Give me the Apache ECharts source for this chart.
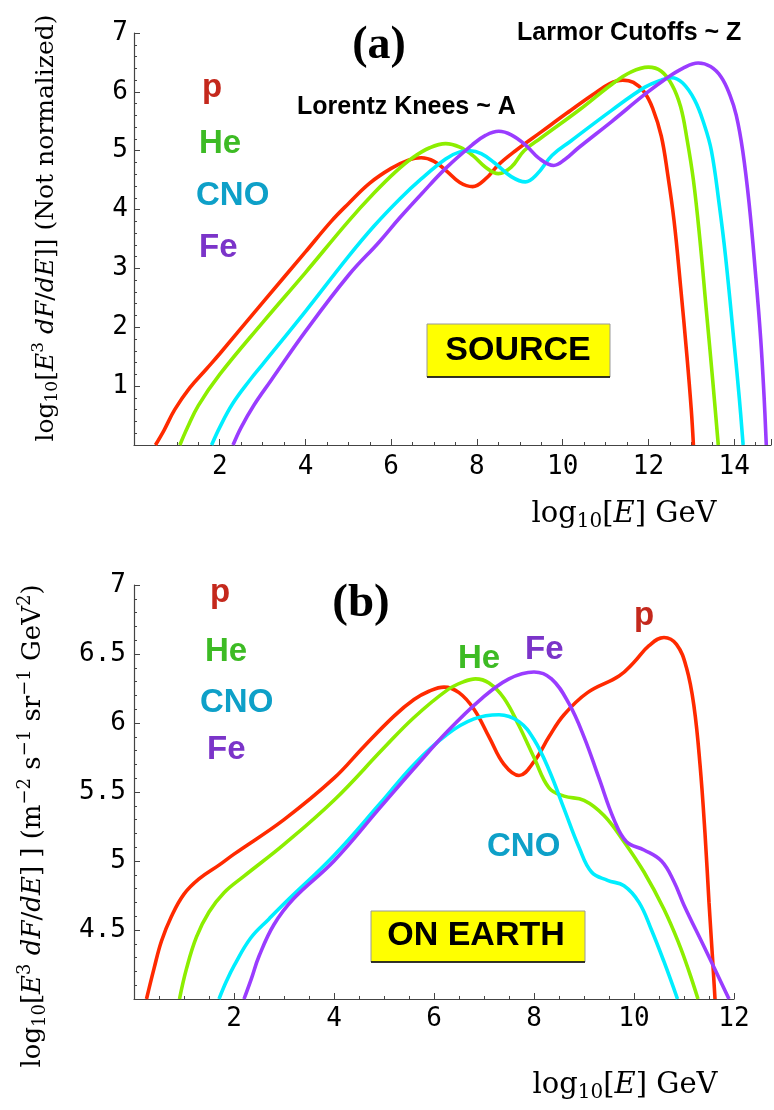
<!DOCTYPE html>
<html><head><meta charset="utf-8">
<script src="https://cdn.jsdelivr.net/npm/echarts@6/dist/echarts.min.js"></script>
<style>html,body{margin:0;padding:0;background:#fff}#c{width:774px;height:1110px}</style>
</head><body><div id="c"></div>
<script>
// ---------- Panel (a): SOURCE ----------
const srcP = [[0.5,0],[0.7,0.25],[0.95,0.6],[1.3,0.97],[1.7,1.3],[2.0,1.55],[3.0,2.42],[4.0,3.28],[4.6,3.8],[5.0,4.1],[5.5,4.45],[6.0,4.7],[6.4,4.84],[6.7,4.88],[7.0,4.82],[7.3,4.65],[7.6,4.46],[7.9,4.39],[8.2,4.52],[8.5,4.76],[8.9,5.0],[9.5,5.32],[10.1,5.64],[10.7,5.95],[11.1,6.14],[11.4,6.2],[11.65,6.16],[11.9,6.0],[12.1,5.72],[12.3,5.25],[12.45,4.6],[12.6,3.8],[12.75,2.7],[12.9,1.5],[13.0,0.6],[13.05,0]];
const srcHe = [[1.07,0],[1.25,0.3],[1.5,0.67],[2.0,1.2],[3.0,2.08],[4.0,2.93],[5.0,3.8],[5.6,4.28],[6.1,4.64],[6.5,4.88],[6.9,5.05],[7.27,5.12],[7.6,5.06],[7.9,4.92],[8.2,4.72],[8.5,4.61],[8.8,4.72],[9.1,5.0],[9.5,5.22],[10.4,5.7],[11.15,6.13],[11.6,6.34],[12.0,6.42],[12.3,6.35],[12.55,6.12],[12.75,5.75],[12.9,5.2],[13.05,4.5],[13.2,3.5],[13.35,2.3],[13.5,1.1],[13.63,0]];
const srcCNO = [[1.81,0],[2.0,0.3],[2.3,0.7],[2.7,1.1],[3.0,1.37],[4.0,2.27],[5.0,3.2],[5.6,3.72],[6.2,4.18],[6.7,4.52],[7.27,4.86],[7.6,4.98],[7.85,5.0],[8.1,4.95],[8.4,4.8],[8.8,4.56],[9.13,4.47],[9.4,4.6],[9.75,4.92],[10.2,5.17],[11.15,5.69],[11.92,6.08],[12.3,6.2],[12.54,6.24],[12.8,6.15],[13.08,5.86],[13.3,5.45],[13.47,5.0],[13.65,4.1],[13.8,3.2],[14.01,1.65],[14.12,0.8],[14.21,0]];
const srcFe = [[2.31,0],[2.5,0.3],[2.8,0.68],[3.2,1.1],[4.0,1.93],[5.0,2.88],[5.72,3.45],[6.2,3.86],[6.7,4.26],[7.27,4.7],[7.89,5.1],[8.2,5.26],[8.51,5.33],[8.8,5.27],[9.13,5.1],[9.45,4.87],[9.79,4.75],[10.05,4.85],[10.37,5.05],[11.15,5.5],[11.92,5.96],[12.4,6.22],[12.8,6.4],[13.16,6.49],[13.45,6.43],[13.7,6.25],[13.9,5.95],[14.05,5.6],[14.2,5.0],[14.35,4.1],[14.5,2.9],[14.62,1.8],[14.7,0.8],[14.75,0]];

// ---------- Panel (b): ON EARTH ----------
const earthP = [[0.25,4],[0.4,4.22],[0.55,4.42],[0.75,4.6],[1.0,4.76],[1.3,4.87],[1.7,4.97],[2.0,5.05],[3.0,5.3],[4.0,5.6],[4.6,5.83],[5.2,6.05],[5.6,6.17],[5.9,6.23],[6.2,6.26],[6.5,6.22],[6.8,6.1],[7.1,5.9],[7.4,5.7],[7.7,5.62],[8.0,5.72],[8.3,5.9],[8.6,6.06],[9.07,6.22],[9.7,6.34],[10.0,6.44],[10.3,6.56],[10.6,6.62],[10.85,6.57],[11.05,6.4],[11.2,6.12],[11.32,5.7],[11.42,5.2],[11.5,4.7],[11.57,4.3],[11.62,4]];
const earthHe = [[0.91,4],[1.05,4.22],[1.25,4.45],[1.5,4.63],[1.8,4.77],[2.2,4.89],[3.0,5.12],[4.0,5.44],[5.0,5.82],[5.6,6.04],[6.27,6.24],[6.6,6.3],[6.83,6.32],[7.1,6.29],[7.4,6.18],[7.7,5.98],[8.0,5.75],[8.3,5.53],[8.6,5.47],[9.0,5.44],[9.4,5.33],[9.8,5.14],[10.2,4.92],[10.6,4.65],[10.9,4.4],[11.1,4.2],[11.28,4]];
const earthCNO = [[1.7,4],[1.85,4.13],[2.0,4.24],[2.33,4.44],[2.7,4.58],[3.0,4.69],[4.0,5.04],[4.93,5.42],[5.6,5.7],[6.27,5.92],[6.8,6.03],[7.3,6.06],[7.7,6.01],[8.0,5.88],[8.3,5.66],[8.6,5.38],[8.9,5.1],[9.15,4.92],[9.47,4.86],[9.8,4.82],[10.1,4.7],[10.35,4.5],[10.6,4.27],[10.87,4]];
const earthFe = [[2.2,4],[2.35,4.15],[2.5,4.31],[2.8,4.54],[3.2,4.73],[4.0,5.0],[4.93,5.39],[5.6,5.67],[6.27,5.94],[6.93,6.17],[7.5,6.32],[8.0,6.37],[8.35,6.32],[8.7,6.14],[9.0,5.9],[9.3,5.6],[9.6,5.3],[9.85,5.14],[10.2,5.08],[10.55,5.0],[10.8,4.85],[11.0,4.68],[11.4,4.38],[11.9,4]];

const speciesNames = ['p','He','CNO','Fe'];
const lineColors = ['#ff2a00','#8cee00','#00eeff','#9a3cff'];
const textColors = ['#c4281c','#3dbb24','#0ea0c8','#7b34c9'];

const chart = echarts.init(document.getElementById('c'), null, {renderer:'canvas'});
const axColor = '#444';
const monoFont = 'DejaVu Sans Mono';
function xAx(gi, max, fs, margin){
  return {type:'value', gridIndex:gi, min:0, max:max, interval:2,
    axisLine:{show:true, onZero:false, lineStyle:{color:axColor, width:1.2}},
    axisTick:{show:true, inside:true, length:6, lineStyle:{color:axColor}},
    minorTick:{show:true, splitNumber:4, length:3, lineStyle:{color:axColor}},
    splitLine:{show:false}, minorSplitLine:{show:false},
    axisLabel:{color:'#000', fontFamily:monoFont, fontSize:fs, margin:margin, showMaxLabel:true, showMinLabel:true,
      formatter:v => (v===0 || Math.abs(v%2)>1e-9) ? '' : String(v)}};
}
function yAx(gi, min, max, interval, fs, margin){
  return {type:'value', gridIndex:gi, min:min, max:max, interval:interval,
    axisLine:{show:true, onZero:false, lineStyle:{color:axColor, width:1.2}},
    axisTick:{show:true, inside:true, length:6, lineStyle:{color:axColor}},
    minorTick:{show:true, splitNumber:5, length:3, lineStyle:{color:axColor}},
    splitLine:{show:false}, minorSplitLine:{show:false},
    axisLabel:{color:'#000', fontFamily:monoFont, fontSize:fs, margin:margin,
      formatter:v => v===min ? '' : (Number.isInteger(v) ? String(v) : v.toFixed(1))}};
}
function ser(data, i, gi){
  return {type:'line', xAxisIndex:gi, yAxisIndex:gi, data:data, smooth:0.4, showSymbol:false,
    symbol:'none', lineStyle:{color:lineColors[i], width:3.6}, itemStyle:{color:lineColors[i]}, z:2+i, silent:true, animation:false};
}

const serif = 'DejaVu Serif';
const richAxis = (fs) => ({
  r:{fontFamily:serif, fontSize:fs, color:'#000'},
  i:{fontFamily:serif, fontSize:fs, fontStyle:'italic', color:'#000'},
  sub:{fontFamily:serif, fontSize:Math.round(fs*0.68), color:'#000', padding:[Math.round(fs*0.55),0,0,0]},
  sup:{fontFamily:serif, fontSize:Math.round(fs*0.68), color:'#000', padding:[0,0,Math.round(fs*0.6),0]}
});
function txt(x, y, s, color, fs, opts){
  return Object.assign({type:'text', x:x, y:y, z:100, style:{text:s, fill:color,
    font:'bold '+fs+'px "Liberation Sans", Arial, sans-serif', align:'left', verticalAlign:'middle'}}, opts||{});
}

const graphics = [
  // axis titles
  {type:'text', x:46, y:228, rotation:Math.PI/2, z:100, style:{
    text:'{r|log}{sub|10}{r|[}{i|E}{sup|3}{i| dF}{r|/}{i|dE}{r|]] (Not normalized)}',
    rich:richAxis(25), align:'center', verticalAlign:'middle'}},
  {type:'text', x:33, y:826, rotation:Math.PI/2, z:100, style:{
    text:'{r|log}{sub|10}{r|[}{i|E}{sup|3}{i| dF}{r|/}{i|dE}{r|] ] (m}{sup|−2}{r| s}{sup|−1}{r| sr}{sup|−1}{r| GeV}{sup|2}{r|)}',
    rich:richAxis(26), align:'center', verticalAlign:'middle'}},
  {type:'text', x:624, y:514, z:100, style:{text:'{r|log}{sub|10}{r|[}{i|E}{r|] GeV}', rich:richAxis(29), align:'center', verticalAlign:'middle'}},
  {type:'text', x:625, y:1085, z:100, style:{text:'{r|log}{sub|10}{r|[}{i|E}{r|] GeV}', rich:richAxis(29), align:'center', verticalAlign:'middle'}},
  // panel letters
  {type:'text', x:379, y:46, z:100, style:{text:'(a)', fill:'#000', font:'bold 46px "Liberation Serif", serif', align:'center', verticalAlign:'middle'}},
  {type:'text', x:361, y:604, z:100, style:{text:'(b)', fill:'#000', font:'bold 47px "Liberation Serif", serif', align:'center', verticalAlign:'middle'}},
  // annotations panel a
  txt(517, 33, 'Larmor Cutoffs ~ Z', '#000', 25),
  txt(297, 107, 'Lorentz Knees ~ A', '#000', 25),
  txt(202, 88, speciesNames[0], textColors[0], 33),
  txt(199, 144, speciesNames[1], textColors[1], 33),
  txt(196, 196, speciesNames[2], textColors[2], 33),
  txt(199, 248, speciesNames[3], textColors[3], 33),
  // SOURCE box
  {type:'rect', z:90, shape:{x:427, y:324, width:183, height:53}, style:{fill:'#ffff00', stroke:'#999', lineWidth:1}},
  {type:'line', z:91, shape:{x1:427, y1:377, x2:610, y2:377}, style:{stroke:'#000', lineWidth:1.5}},
  {type:'text', x:518, y:351, z:100, style:{text:'SOURCE', fill:'#000', font:'bold 34px "Liberation Sans", Arial, sans-serif', align:'center', verticalAlign:'middle'}},
  // annotations panel b
  txt(210, 593, speciesNames[0], textColors[0], 33),
  txt(205, 652, speciesNames[1], textColors[1], 33),
  txt(200, 703, speciesNames[2], textColors[2], 33),
  txt(207, 750, speciesNames[3], textColors[3], 33),
  txt(458, 659, speciesNames[1], textColors[1], 33),
  txt(525, 650, speciesNames[3], textColors[3], 33),
  txt(634, 616, speciesNames[0], textColors[0], 33),
  txt(487, 847, speciesNames[2], textColors[2], 33),
  // ON EARTH box
  {type:'rect', z:90, shape:{x:371, y:911, width:214, height:51}, style:{fill:'#ffff00', stroke:'#999', lineWidth:1}},
  {type:'line', z:91, shape:{x1:371, y1:962, x2:585, y2:962}, style:{stroke:'#000', lineWidth:1.5}},
  {type:'text', x:476, y:936, z:100, style:{text:'ON EARTH', fill:'#000', font:'bold 34px "Liberation Sans", Arial, sans-serif', align:'center', verticalAlign:'middle'}}
];

chart.setOption({
  animation:false,
  backgroundColor:'#fff',
  grid:[
    {left:134, top:33, width:639, height:412},
    {left:134, top:585, width:600, height:414}
  ],
  xAxis:[xAx(0, 14.86, 26, 9), xAx(1, 12, 26, 7)],
  yAxis:[yAx(0, 0, 7, 1, 26, 6), yAx(1, 4, 7, 0.5, 26, 8)],
  series:[
    ser(srcP,0,0), ser(srcHe,1,0), ser(srcCNO,2,0), ser(srcFe,3,0),
    ser(earthP,0,1), ser(earthHe,1,1), ser(earthCNO,2,1), ser(earthFe,3,1)
  ],
  graphic:graphics
});
</script></body></html>
